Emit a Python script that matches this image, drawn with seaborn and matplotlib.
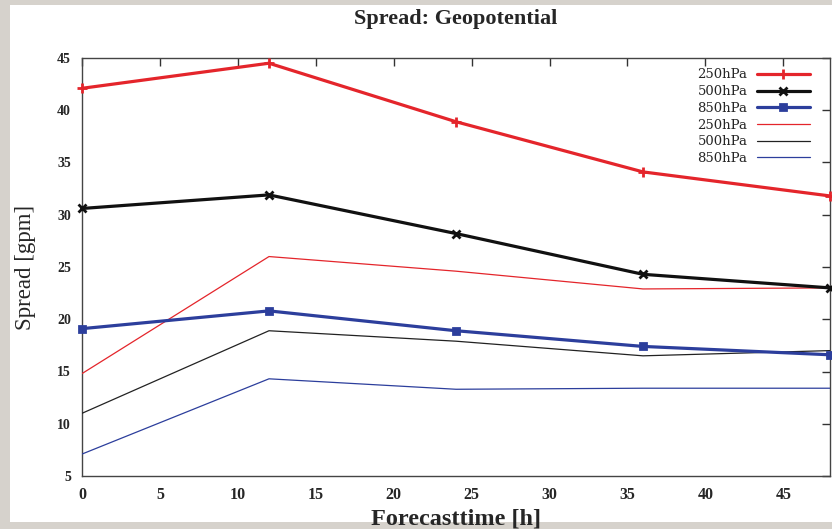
import matplotlib
matplotlib.use("Agg")
import matplotlib.pyplot as plt
import pandas as pd
import seaborn as sns
from matplotlib.patches import Rectangle

# Forecast lead times [h]
hours = [0, 12, 24, 36, 48]

# Ensemble spread of geopotential [gpm], first set (thick lines with markers)
spread_250_a = [42.1, 44.5, 38.9, 34.1, 31.8]
spread_500_a = [30.6, 31.9, 28.2, 24.3, 23.0]
spread_850_a = [19.1, 20.8, 18.9, 17.4, 16.6]

# Second set (thin lines)
spread_250_b = [14.8, 26.0, 24.6, 22.9, 23.0]
spread_500_b = [11.0, 18.9, 17.9, 16.5, 17.0]
spread_850_b = [7.1, 14.3, 13.3, 13.4, 13.4]

labels = ["250hPa", "500hPa", "850hPa"]
x_ticks = [0, 5, 10, 15, 20, 25, 30, 35, 40, 45]
y_ticks = [5, 10, 15, 20, 25, 30, 35, 40, 45]

sns.set_style("white")
plt.rcParams["font.family"] = ["Liberation Serif", "DejaVu Serif"]

fig = plt.figure(figsize=(8.32, 5.29), dpi=100, facecolor="#d6d2cc")
fig.patches.append(Rectangle((0.012, 0.014), 0.988, 0.977, transform=fig.transFigure,
                             facecolor="white", edgecolor="none", zorder=-10))

ax = fig.add_axes([82 / 832, 53 / 529, 748 / 832, 418 / 529])
ax.set_facecolor("white")
ax.set_zorder(2)

red, black, blue = "#e4252b", "#111111", "#2c3e9c"

thick = [
    (spread_250_a, red, "+", 7),
    (spread_500_a, black, "x", 5.5),
    (spread_850_a, blue, "s", 4.5),
]
thin = [
    (spread_250_b, red),
    (spread_500_b, "#222222"),
    (spread_850_b, blue),
]

for (vals, col, mk, ms), lab in zip(thick, labels):
    df = pd.DataFrame({"h": hours, "v": vals})
    sns.lineplot(data=df, x="h", y="v", ax=ax, color=col, linewidth=2.3,
                 marker=mk, markersize=ms, markeredgewidth=2.0,
                 markeredgecolor=col, label=lab, clip_on=False, zorder=4)

for (vals, col), lab in zip(thin, labels):
    df = pd.DataFrame({"h": hours, "v": vals})
    sns.lineplot(data=df, x="h", y="v", ax=ax, color=col, linewidth=0.9,
                 label=lab, zorder=3)

ax.set_xlim(0, 48)
ax.set_ylim(5, 45)
ax.set_xticks(x_ticks)
ax.set_yticks(y_ticks)
ax.tick_params(direction="in", length=6, width=1.0, color="#333333",
               top=True, right=True, labelsize=10)
for lab in ax.get_xticklabels():
    lab.set_fontweight("bold")
    lab.set_fontsize(11.5)
for lab in ax.get_yticklabels():
    lab.set_fontweight("bold")
    lab.set_fontsize(10)
ax.tick_params(axis="x", pad=8)
ax.tick_params(axis="y", pad=8)
for sp in ax.spines.values():
    sp.set_color("#444444")
    sp.set_linewidth(1.0)

ax.set_xlabel("Forecasttime [h]", fontsize=17.5, fontweight="bold", labelpad=4)
ax.set_ylabel("Spread [gpm]", fontsize=16.5, labelpad=15)
fig.text(0.548, 0.965, "Spread: Geopotential", ha="center", va="center",
         fontsize=16, fontweight="bold")

ax.legend(loc="upper right", frameon=False, markerfirst=False,
          prop={"family": "DejaVu Serif", "size": 9.5},
          handlelength=4.0, labelspacing=0.28, borderaxespad=0.3,
          handletextpad=0.7, bbox_to_anchor=(0.985, 0.997))

fig.savefig("out.png", dpi=100, facecolor=fig.get_facecolor())
